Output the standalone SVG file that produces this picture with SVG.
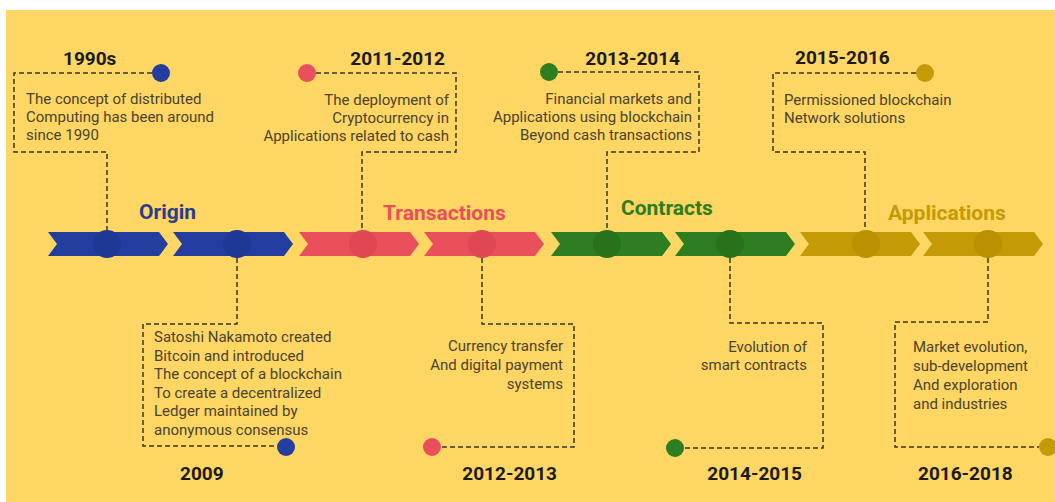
<svg xmlns="http://www.w3.org/2000/svg" width="1055" height="502" viewBox="0 0 1055 502">
<defs>
<style>
.bg{fill:#FDD663}
.dash{fill:none;stroke:#3a3528;stroke-width:1.5;stroke-dasharray:5 3}
.yr{font-family:Roboto,"Liberation Sans",sans-serif;font-weight:700;font-size:19px;fill:#1c1a14}
.tx{font-family:Roboto,"Liberation Sans",sans-serif;font-size:15px;fill:#4a4430}
.cat{font-family:Roboto,"Liberation Sans",sans-serif;font-weight:700;font-size:21px}
.blue{fill:#243EA0}.blueD{fill:#1F3795}
.red{fill:#E9505C}.redD{fill:#E04755}
.green{fill:#2E7D20}.greenD{fill:#28721C}
.gold{fill:#C49A06}.goldD{fill:#BA9103}
</style>
<polygon id="chev" points="0,232 111,232 120,244 111,256 0,256 9,244"/>
</defs>
<rect class="bg" x="6" y="10" width="1049" height="492"/>

<g id="timeline">
<use href="#chev" x="48" class="blue"/>
<use href="#chev" x="173" class="blue"/>
<use href="#chev" x="299" class="red"/>
<use href="#chev" x="424" class="red"/>
<use href="#chev" x="551" class="green"/>
<use href="#chev" x="675" class="green"/>
<use href="#chev" x="800" class="gold"/>
<use href="#chev" x="923" class="gold"/>
<circle cx="107" cy="244" r="14" class="blueD"/>
<circle cx="237" cy="244" r="14" class="blueD"/>
<circle cx="363" cy="244" r="14" class="redD"/>
<circle cx="482" cy="244" r="14" class="redD"/>
<circle cx="607" cy="244" r="14" class="greenD"/>
<circle cx="730" cy="244" r="14" class="greenD"/>
<circle cx="866" cy="244" r="14" class="goldD"/>
<circle cx="988" cy="244" r="14" class="goldD"/>
</g>

<g id="categories">
<text class="cat" x="139" y="219" fill="#2B3C8E">Origin</text>
<text class="cat" x="383" y="220" fill="#E9505C">Transactions</text>
<text class="cat" x="621" y="215" fill="#2E7D20">Contracts</text>
<text class="cat" x="888" y="220" fill="#C49A06">Applications</text>
</g>

<g id="connectors">
<polyline class="dash" points="152,73 14,73 14,152 107,152 107,230"/>
<polyline class="dash" points="316,73 456,73 456,152 362,152 362,230"/>
<polyline class="dash" points="558,72 699,72 699,152 607,152 607,230"/>
<polyline class="dash" points="916,73 773,73 773,152 865,152 865,230"/>
<polyline class="dash" points="237,258 237,324 143,324 143,446 277,446"/>
<polyline class="dash" points="482,258 482,324 574,324 574,447 441,447"/>
<polyline class="dash" points="730,258 730,323 823,323 823,448 684,448"/>
<polyline class="dash" points="988,258 988,322 895,322 895,447 1039,447"/>
</g>

<g id="n1990">
<circle cx="161" cy="73" r="9" class="blue"/>
<text class="yr" x="63" y="65">1990s</text>
<text class="tx" x="26"><tspan x="26" y="104">The concept of distributed</tspan><tspan x="26" y="122">Computing has been around</tspan><tspan x="26" y="140">since 1990</tspan></text>
</g>

<g id="n2011">
<circle cx="307" cy="73" r="9" class="red"/>
<text class="yr" x="445" y="65" text-anchor="end">2011-2012</text>
<text class="tx" text-anchor="end"><tspan x="449" y="105">The deployment of</tspan><tspan x="449" y="123">Cryptocurrency in</tspan><tspan x="449" y="141">Applications related to cash</tspan></text>
</g>

<g id="n2013">
<circle cx="549" cy="72" r="9" class="green"/>
<text class="yr" x="680" y="65" text-anchor="end">2013-2014</text>
<text class="tx" text-anchor="end"><tspan x="692" y="104">Financial markets and</tspan><tspan x="692" y="122">Applications using blockchain</tspan><tspan x="692" y="140">Beyond cash transactions</tspan></text>
</g>

<g id="n2015">
<circle cx="925" cy="73" r="9" class="gold"/>
<text class="yr" x="795" y="64">2015-2016</text>
<text class="tx"><tspan x="784" y="105">Permissioned blockchain</tspan><tspan x="784" y="123">Network solutions</tspan></text>
</g>

<g id="n2009">
<circle cx="286" cy="447" r="9" class="blue"/>
<text class="yr" x="180" y="480">2009</text>
<text class="tx"><tspan x="154" y="342">Satoshi Nakamoto created</tspan><tspan x="154" y="360.5">Bitcoin and introduced</tspan><tspan x="154" y="379">The concept of a blockchain</tspan><tspan x="154" y="397.5">To create a decentralized</tspan><tspan x="154" y="416">Ledger maintained by</tspan><tspan x="154" y="434.5">anonymous consensus</tspan></text>
</g>

<g id="n2012">
<circle cx="432" cy="447" r="9" class="red"/>
<text class="yr" x="557" y="480" text-anchor="end">2012-2013</text>
<text class="tx" text-anchor="end"><tspan x="563" y="351">Currency transfer</tspan><tspan x="563" y="370">And digital payment</tspan><tspan x="563" y="389">systems</tspan></text>
</g>

<g id="n2014">
<circle cx="675" cy="448" r="9" class="green"/>
<text class="yr" x="802" y="480" text-anchor="end">2014-2015</text>
<text class="tx" text-anchor="end"><tspan x="807" y="352">Evolution of</tspan><tspan x="807" y="370">smart contracts</tspan></text>
</g>

<g id="n2016">
<circle cx="1048" cy="447" r="9" class="gold"/>
<text class="yr" x="918" y="480">2016-2018</text>
<text class="tx"><tspan x="913" y="352">Market evolution,</tspan><tspan x="913" y="371">sub-development</tspan><tspan x="913" y="390">And exploration</tspan><tspan x="913" y="409">and industries</tspan></text>
</g>
</svg>
